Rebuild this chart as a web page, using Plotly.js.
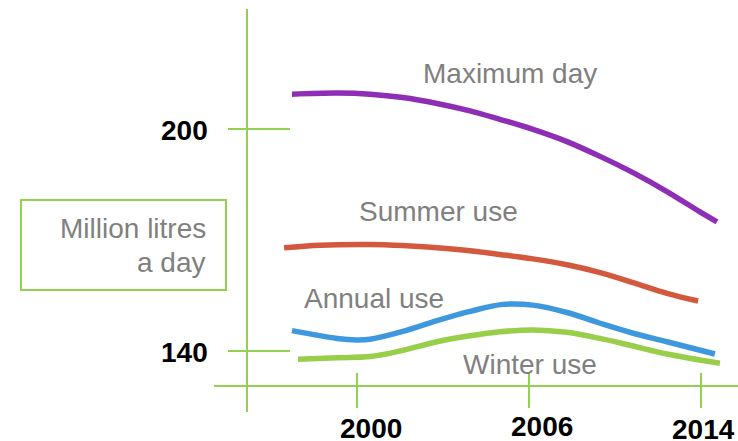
<!DOCTYPE html>
<html><head><meta charset="utf-8">
<script src="https://cdn.plot.ly/plotly-3.0.1.min.js"></script>
<style>html,body{margin:0;padding:0;background:#fff;}#chart{width:738px;height:441px;}</style>
</head><body><div id="chart"></div>
<script>
// Schematic timeline: position 0 = 2000, 1 = 2006, 2 = 2014
const xTickPos = [0, 1, 2];
const xTickLabels = ['2000', '2006', '2014'];
const yTickVals = [200, 140];
const yTickLabels = ['200', '140'];
const unitLabel = ['Million litres', 'a day'];
const seriesNames = ['Maximum day', 'Summer use', 'Annual use', 'Winter use'];

const maxDayX = [-0.378, -0.116, 0.076, 0.267, 0.465, 0.657, 0.831, 1.023, 1.221, 1.413, 1.605, 1.802, 1.994, 2.093];
const maxDayY = [209.4, 209.7, 209.4, 208.5, 206.9, 204.9, 202.6, 199.9, 196.6, 192.6, 188.2, 183.1, 177.6, 174.9];

const summerX = [-0.424, -0.215, 0.076, 0.267, 0.465, 0.657, 0.831, 1.023, 1.221, 1.413, 1.605, 1.802, 1.983];
const summerY = [167.9, 168.6, 168.8, 168.5, 167.9, 167.1, 166.1, 164.9, 163.3, 161.2, 158.5, 155.6, 153.5];

const annualX = [-0.378, -0.116, 0.0, 0.076, 0.267, 0.465, 0.657, 0.849, 1.023, 1.221, 1.413, 1.605, 1.802, 2.081];
const annualY = [145.5, 143.4, 143.0, 143.2, 145.3, 148.2, 150.7, 152.6, 152.4, 150.4, 147.5, 144.8, 142.5, 139.2];

const winterX = [-0.343, -0.116, 0.076, 0.267, 0.465, 0.657, 0.831, 1.023, 1.221, 1.413, 1.605, 1.802, 2.110];
const winterY = [137.8, 138.2, 138.5, 140.2, 142.5, 144.1, 145.2, 145.7, 145.05, 143.4, 141.35, 139.2, 136.7];

// ---- styling / layout ----
const W = 738, H = 441;
const px = v => v / W;            // pixel -> paper x
const py = v => 1 - v / H;        // pixel -> paper y
const green = '#92D050';
const gray = '#808080';
const FONT = 'Liberation Sans, Arial, sans-serif';

const seriesData = [[maxDayX, maxDayY], [summerX, summerY], [annualX, annualY], [winterX, winterY]];
const seriesColors = ['#8E2DB5', '#D3593E', '#3E98DE', '#98CE4A'];
const traces = seriesData.map((d, i) => ({
  x: d[0], y: d[1], type: 'scatter', mode: 'lines', name: seriesNames[i],
  line: {color: seriesColors[i], width: 5.5, shape: 'spline', smoothing: 1},
  hoverinfo: 'skip'
}));

const seriesLabelPos = [[510, 73], [438, 211], [374, 298], [530, 364]];
const annotations = [];
seriesNames.forEach((n, i) => annotations.push({
  text: n, xref: 'paper', yref: 'paper', x: px(seriesLabelPos[i][0]), y: py(seriesLabelPos[i][1]),
  xanchor: 'center', yanchor: 'middle', showarrow: false,
  font: {family: FONT, size: 28, color: gray}
}));
const unitPos = [229, 262];
unitLabel.forEach((t, i) => annotations.push({
  text: t, xref: 'paper', yref: 'paper', x: px(208), y: py(unitPos[i]),
  xanchor: 'right', yanchor: 'middle', showarrow: false,
  font: {family: FONT, size: 28, color: gray}
}));
yTickLabels.forEach((t, i) => annotations.push({
  text: '<b>' + t + '</b>', xref: 'paper', yref: 'y', x: px(184), y: yTickVals[i],
  xanchor: 'center', yanchor: 'middle', showarrow: false, yshift: -1,
  font: {family: FONT, size: 28, color: '#000'}
}));
const xLabelShift = [14, 13, 2];
const xLabelY = [428, 426, 429];
xTickLabels.forEach((t, i) => annotations.push({
  text: '<b>' + t + '</b>', xref: 'x', yref: 'paper', x: xTickPos[i], y: py(xLabelY[i]),
  xanchor: 'center', yanchor: 'middle', showarrow: false, xshift: xLabelShift[i],
  height: 23, borderpad: 0, borderwidth: 0, valign: 'middle',
  font: {family: FONT, size: 28, color: '#000'}
}));

const axisLine = {color: green, width: 2};
const shapes = [
  {type: 'line', xref: 'paper', yref: 'paper', x0: px(247), x1: px(247), y0: py(412), y1: py(9), line: axisLine},
  {type: 'line', xref: 'paper', yref: 'paper', x0: px(214), x1: px(738), y0: py(386), y1: py(386), line: axisLine},
  {type: 'rect', xref: 'paper', yref: 'paper', x0: px(21), x1: px(226), y0: py(290), y1: py(200), line: axisLine}
];
yTickVals.forEach(v => shapes.push({type: 'line', xref: 'paper', yref: 'y', x0: px(228), x1: px(290), y0: v, y1: v, line: axisLine}));
xTickPos.forEach(v => shapes.push({type: 'line', xref: 'x', yref: 'paper', x0: v, x1: v, y0: py(408), y1: py(373), line: axisLine}));

const hiddenAxis = {showgrid: false, zeroline: false, showline: false, showticklabels: false, ticks: ''};
const layout = {
  width: W, height: H, autosize: false,
  margin: {l: 0, r: 0, t: 0, b: 0, pad: 0},
  paper_bgcolor: '#fff', plot_bgcolor: '#fff', showlegend: false,
  xaxis: Object.assign({range: [(0 - 357) / 172, (W - 357) / 172], fixedrange: true}, hiddenAxis),
  yaxis: Object.assign({range: [200 - (H - 129) / 3.7, 200 + 129 / 3.7], fixedrange: true}, hiddenAxis),
  shapes: shapes, annotations: annotations
};
Plotly.newPlot('chart', traces, layout, {displayModeBar: false, staticPlot: true});
</script></body></html>
